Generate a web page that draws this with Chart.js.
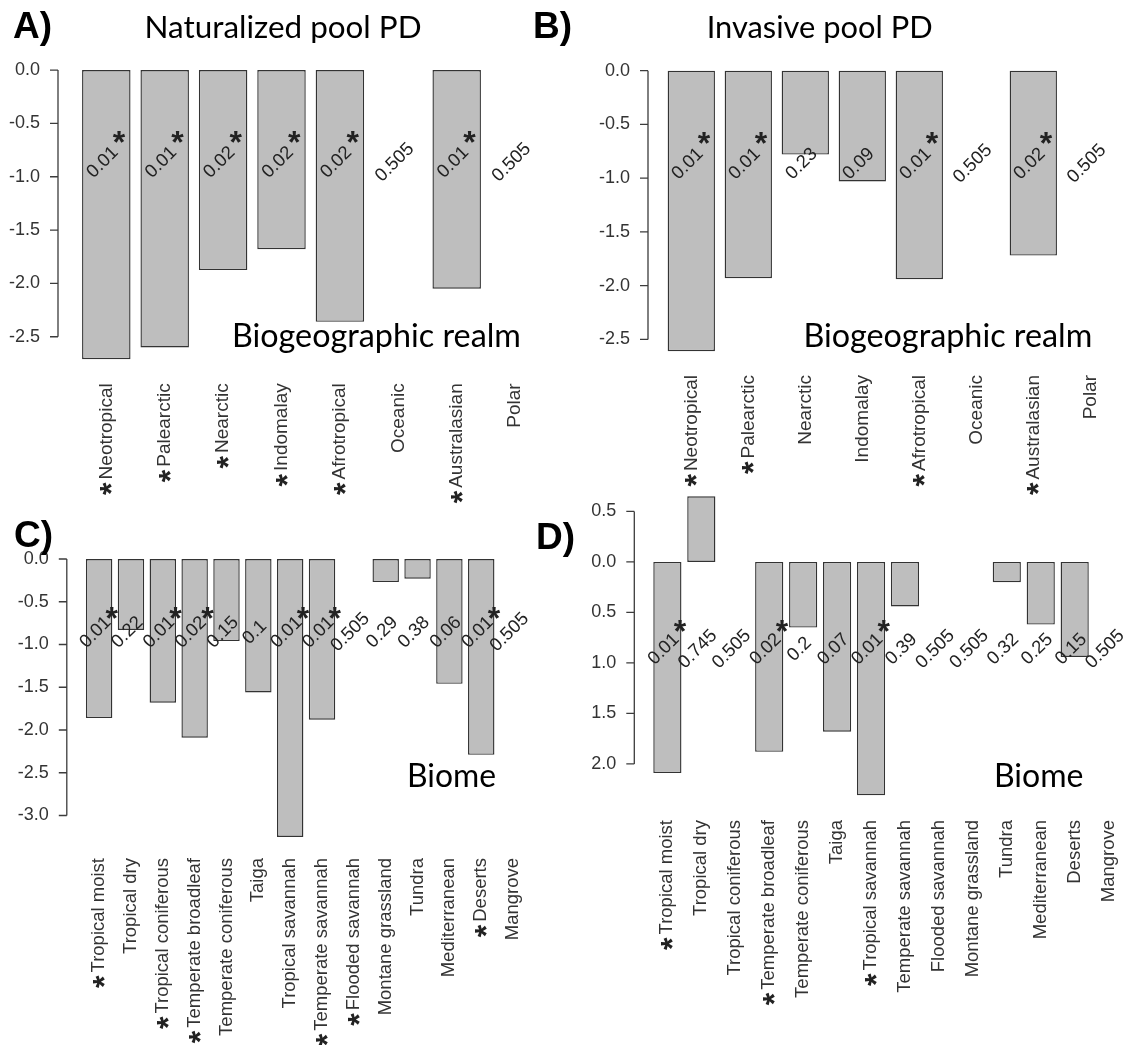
<!DOCTYPE html>
<html>
<head>
<meta charset="utf-8">
<script src="https://cdn.jsdelivr.net/npm/chart.js@4.4.1/dist/chart.umd.min.js"></script>
<style>
  html, body { margin: 0; padding: 0; background: #fff; }
  #page { position: relative; width: 1128px; height: 1045px; overflow: hidden; }
  #page canvas { position: absolute; left: 0; top: 0; }
</style>
</head>
<body>
<div id="page">
  <canvas id="chartA" width="1128" height="1045"></canvas>
  <canvas id="chartB" width="1128" height="1045"></canvas>
  <canvas id="chartC" width="1128" height="1045"></canvas>
  <canvas id="chartD" width="1128" height="1045"></canvas>
</div>
<script>
// --- data (a leading * marks a starred category label) ---
const realmsNat = ['*Neotropical', '*Palearctic', '*Nearctic', '*Indomalay', '*Afrotropical', 'Oceanic', '*Australasian', 'Polar'];
const realmsInv = ['*Neotropical', '*Palearctic', 'Nearctic', 'Indomalay', '*Afrotropical', 'Oceanic', '*Australasian', 'Polar'];
const natRealmPD = [-2.71, -2.60, -1.875, -1.68, -2.36, null, -2.05, null];
const natRealmP = ['0.01', '0.01', '0.02', '0.02', '0.02', '0.505', '0.01', '0.505'];
const invRealmPD = [-2.61, -1.93, -0.78, -1.03, -1.94, null, -1.72, null];
const invRealmP = ['0.01', '0.01', '0.23', '0.09', '0.01', '0.505', '0.02', '0.505'];

const biomesNat = ['*Tropical moist', 'Tropical dry', '*Tropical coniferous', '*Temperate broadleaf', 'Temperate coniferous', 'Taiga',
  'Tropical savannah', '*Temperate savannah', '*Flooded savannah', 'Montane grassland', 'Tundra', 'Mediterranean', '*Deserts', 'Mangrove'];
const biomesInv = ['*Tropical moist', 'Tropical dry', 'Tropical coniferous', '*Temperate broadleaf', 'Temperate coniferous', 'Taiga',
  '*Tropical savannah', 'Temperate savannah', 'Flooded savannah', 'Montane grassland', 'Tundra', 'Mediterranean', 'Deserts', 'Mangrove'];
const natBiomePD = [-1.86, -0.83, -1.68, -2.09, -0.96, -1.56, -3.25, -1.88, null, -0.27, -0.23, -1.46, -2.29, null];
const natBiomeP = ['0.01', '0.22', '0.01', '0.02', '0.15', '0.1', '0.01', '0.01', '0.505', '0.29', '0.38', '0.06', '0.01', '0.505'];
const invBiomePD = [-2.09, 0.65, null, -1.88, -0.65, -1.68, -2.31, -0.44, null, null, -0.20, -0.62, -0.94, null];
const invBiomeP = ['0.01', '0.745', '0.505', '0.02', '0.2', '0.07', '0.01', '0.39', '0.505', '0.505', '0.32', '0.25', '0.15', '0.505'];

const realmTicks = [0, -0.5, -1, -1.5, -2, -2.5];
const natBiomeTicks = [0, -0.5, -1, -1.5, -2, -2.5, -3];
const invBiomeTicks = [0.5, 0, -0.5, -1, -1.5, -2];
const invBiomeTickText = ['0.5', '0.0', '0.5', '1.0', '1.5', '2.0'];   // printed as in the original figure

// --- look ---
const W = 1128, H = 1045;
const SANS = "'Liberation Sans', Arial, sans-serif";
const TITLE_FONT = "Lato, 'Open Sans', sans-serif";
const BAR_FILL = '#bebebe';
const BAR_EDGE = '#333';
const P_LABEL_AT = -0.9;   // y value where the p-values sit
const P_STAR_AT = -0.63;   // y value of the asterisk next to a significant p

const panels = [
  { canvas: 'chartA', letter: 'A)', title: 'Naturalized pool PD', note: 'Biogeographic realm',
    cats: realmsNat, values: natRealmPD, pvals: natRealmP, ticks: realmTicks, tickText: null,
    area: { left: 77.1, right: 544.3, top: 58.3, bottom: 370.9 }, yMin: -2.82, yMax: 0.11,
    axisX: 58, labelPad: 12.4, labelSize: 19,
    letterAt: [13, 38], titleAt: [144.6, 38, 277], noteAt: [232, 347, 289] },
  { canvas: 'chartB', letter: 'B)', title: 'Invasive pool PD', note: 'Biogeographic realm',
    cats: realmsInv, values: invRealmPD, pvals: invRealmP, ticks: realmTicks, tickText: null,
    area: { left: 662.8, right: 1118.8, top: 59.4, bottom: 363.1 }, yMin: -2.72, yMax: 0.105,
    axisX: 648, labelPad: 11.9, labelSize: 19,
    letterAt: [533, 38], titleAt: [706.7, 38, 226], noteAt: [803.4, 347, 289] },
  { canvas: 'chartC', letter: 'C)', title: null, note: 'Biome',
    cats: biomesNat, values: natBiomePD, pvals: natBiomeP, ticks: natBiomeTicks, tickText: null,
    area: { left: 83.2, right: 529, top: 547.9, bottom: 848 }, yMin: -3.38, yMax: 0.13,
    axisX: 66.8, labelPad: 10, labelSize: 18.5,
    letterAt: [14, 547], titleAt: null, noteAt: [407, 787, 89] },
  { canvas: 'chartD', letter: 'D)', title: null, note: 'Biome',
    cats: biomesInv, values: invBiomePD, pvals: invBiomeP, ticks: invBiomeTicks, tickText: invBiomeTickText,
    area: { left: 650.4, right: 1125.6, top: 484.2, bottom: 807.4 }, yMin: -2.43, yMax: 0.77,
    axisX: 634.3, labelPad: 12.6, labelSize: 18.5,
    letterAt: [536, 549], titleAt: null, noteAt: [994, 787, 89.5] }
];

// asterisk centred on (x, y) by its glyph box
function star(ctx, x, y, angle) {
  ctx.save();
  ctx.font = 'bold 32px ' + SANS;
  const m = ctx.measureText('*');
  ctx.translate(x, y);
  ctx.rotate(angle);
  ctx.textAlign = 'left';
  ctx.textBaseline = 'alphabetic';
  ctx.fillText('*', -(m.actualBoundingBoxRight - m.actualBoundingBoxLeft) / 2,
    (m.actualBoundingBoxAscent - m.actualBoundingBoxDescent) / 2);
  ctx.restore();
}

// text stretched to a given width (the original uses Calibri)
function fitText(ctx, text, at, weight) {
  ctx.font = weight + ' 100px ' + TITLE_FONT;
  const size = 100 * at[2] / ctx.measureText(text).width;
  ctx.font = weight + ' ' + size.toFixed(2) + 'px ' + TITLE_FONT;
  ctx.fillText(text, at[0], at[1]);
}

function decorate(chart, p, names, starred) {
  const ctx = chart.ctx;
  const xs = chart.scales.x, ys = chart.scales.y;
  ctx.save();

  // R style y axis, set off from the bars
  ctx.strokeStyle = '#3c3c3c';
  ctx.lineWidth = 1.3;
  ctx.beginPath();
  ctx.moveTo(p.axisX, ys.getPixelForValue(p.ticks[0]));
  ctx.lineTo(p.axisX, ys.getPixelForValue(p.ticks[p.ticks.length - 1]));
  p.ticks.forEach(v => {
    const py = ys.getPixelForValue(v);
    ctx.moveTo(p.axisX - 8, py);
    ctx.lineTo(p.axisX, py);
  });
  ctx.stroke();

  // p-values at 45 degrees, asterisk when p < 0.05
  ctx.fillStyle = '#222';
  p.pvals.forEach((pv, i) => {
    const px = xs.getPixelForValue(i);
    ctx.save();
    ctx.font = '18.5px ' + SANS;
    ctx.translate(px, ys.getPixelForValue(P_LABEL_AT));
    ctx.rotate(-Math.PI / 4);
    ctx.textAlign = 'center';
    ctx.textBaseline = 'alphabetic';
    ctx.fillText(pv, 0, 0);
    ctx.restore();
    if (parseFloat(pv) < 0.05) star(ctx, px + 13, ys.getPixelForValue(P_STAR_AT), 0);
  });

  // asterisks in front of the rotated category labels
  names.forEach((n, i) => {
    if (!starred[i]) return;
    ctx.font = p.labelSize + 'px ' + SANS;
    const w = ctx.measureText(n).width;
    star(ctx, xs.getPixelForValue(i), chart.chartArea.bottom + p.labelPad + w + 9, -Math.PI / 2);
  });

  // panel letter, title and the in-plot note
  ctx.fillStyle = '#000';
  ctx.textAlign = 'left';
  ctx.textBaseline = 'alphabetic';
  ctx.font = 'bold 37px ' + SANS;
  ctx.fillText(p.letter, p.letterAt[0], p.letterAt[1]);
  if (p.title) fitText(ctx, p.title, p.titleAt, 'normal');
  fitText(ctx, p.note, p.noteAt, 'normal');
  ctx.restore();
}

function makePanel(p) {
  const names = p.cats.map(c => c.replace(/^\*/, ''));
  const starred = p.cats.map(c => c.startsWith('*'));
  // the axis boxes reach to the canvas edges, so their labels are not clipped
  const yBoxWidth = p.area.left;
  const xBoxHeight = H - p.area.bottom;
  return new Chart(document.getElementById(p.canvas), {
    type: 'bar',
    data: {
      labels: names,
      datasets: [{
        data: p.values,
        backgroundColor: BAR_FILL,
        borderColor: BAR_EDGE,
        borderWidth: 1.4,
        borderSkipped: false,
        categoryPercentage: 1,
        barPercentage: 0.83
      }]
    },
    options: {
      responsive: false,
      animation: false,
      events: [],
      layout: { padding: { left: 0, right: W - p.area.right, top: p.area.top, bottom: 0 } },
      plugins: { legend: { display: false }, tooltip: { enabled: false } },
      scales: {
        x: {
          type: 'category',
          offset: true,
          grid: { display: false, drawTicks: false },
          border: { display: false },
          ticks: {
            autoSkip: false, minRotation: 90, maxRotation: 90,
            padding: p.labelPad, color: '#333',
            font: { family: SANS, size: p.labelSize }
          },
          afterFit: s => { s.height = xBoxHeight; s.paddingLeft = 0; s.paddingRight = 0; }
        },
        y: {
          min: p.yMin, max: p.yMax,
          grid: { display: false, drawTicks: false },
          border: { display: false },
          afterBuildTicks: s => { s.ticks = p.ticks.map(v => ({ value: v })); },
          ticks: {
            padding: p.area.left - (p.axisX - 18), color: '#333',
            font: { family: SANS, size: 18 },
            callback: (v, i) => p.tickText ? p.tickText[i] : v.toFixed(1)
          },
          afterFit: s => { s.width = yBoxWidth; s.paddingTop = 0; s.paddingBottom = 0; }
        }
      }
    },
    plugins: [{ id: 'decor', afterDraw: chart => decorate(chart, p, names, starred) }]
  });
}

panels.forEach(makePanel);
</script>
</body>
</html>
